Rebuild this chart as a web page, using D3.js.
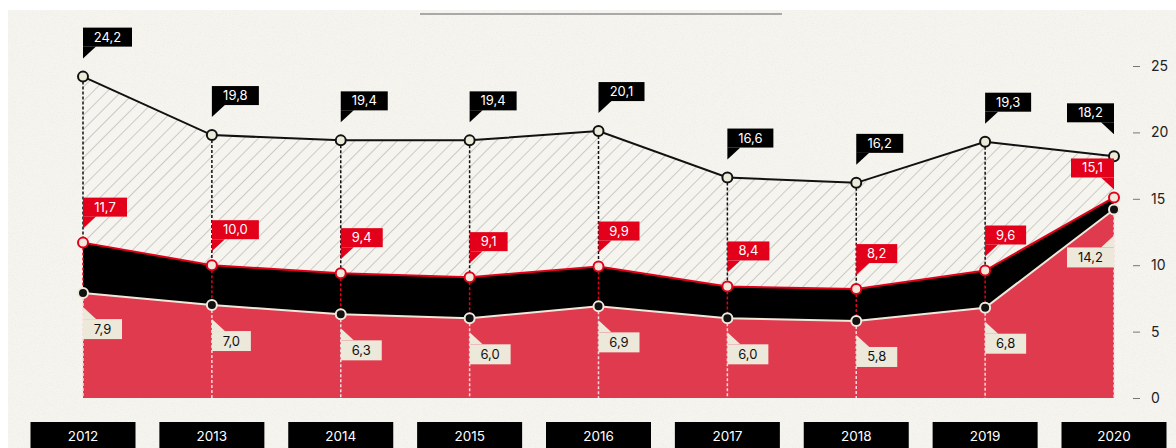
<!DOCTYPE html>
<html>
<head>
<meta charset="utf-8">
<script src="https://cdn.jsdelivr.net/npm/d3@7"></script>
<style>
  html, body { margin: 0; padding: 0; background: #ffffff; }
  svg { display: block; }
  text { font-family: "Inter", "Lato", sans-serif; }
</style>
</head>
<body>
<svg id="chart" width="1176" height="448"></svg>
<script>
// Yearly values, three stacked levels
const years = ["2012", "2013", "2014", "2015", "2016", "2017", "2018", "2019", "2020"];
const totalValues = [24.2, 19.8, 19.4, 19.4, 20.1, 16.6, 16.2, 19.3, 18.2];
const middleValues = [11.7, 10.0, 9.4, 9.1, 9.9, 8.4, 8.2, 9.6, 15.1];
const baseValues = [7.9, 7.0, 6.3, 6.0, 6.9, 6.0, 5.8, 6.8, 14.2];
const yTicks = [0, 5, 10, 15, 20, 25];

const fmt = v => d3.format(".1f")(v).replace(".", ",");

const svg = d3.select("#chart");
const W = 1176, H = 448;

const x = d3.scalePoint().domain(years).range([83, 1114]);
const y = d3.scaleLinear().domain([0, 25]).range([398, 66]);

const rows = years.map((yr, i) => ({
  year: yr, i, total: totalValues[i], mid: middleValues[i], base: baseValues[i]
}));
const last = rows.length - 1;

const defs = svg.append("defs");

// diagonal hatch for the upper band
const hatch = defs.append("pattern")
  .attr("id", "hatch")
  .attr("patternUnits", "userSpaceOnUse")
  .attr("width", 10).attr("height", 10)
  .attr("patternTransform", "rotate(45)");
hatch.append("rect").attr("width", 10).attr("height", 10).attr("fill", "#f5f4ef");
hatch.append("line").attr("x1", 0).attr("y1", 0).attr("x2", 0).attr("y2", 10)
  .attr("stroke", "#a8a8a4").attr("stroke-width", 1.1);

// paper grain
const grain = defs.append("filter").attr("id", "grain")
  .attr("x", 0).attr("y", 0).attr("width", "100%").attr("height", "100%");
grain.append("feTurbulence").attr("type", "fractalNoise")
  .attr("baseFrequency", 0.9).attr("numOctaves", 2).attr("seed", 3).attr("result", "n");
grain.append("feColorMatrix").attr("in", "n").attr("type", "matrix")
  .attr("values", "0 0 0 0 0.45  0 0 0 0 0.43  0 0 0 0 0.40  0 0 0 -1.4 0.75");

// paper background
svg.append("rect").attr("x", 8).attr("y", 10).attr("width", W - 8).attr("height", H - 10)
  .attr("fill", "#f5f4ef");
svg.append("rect").attr("x", 8).attr("y", 10).attr("width", W - 8).attr("height", H - 10)
  .attr("filter", "url(#grain)").attr("opacity", 0.18);

// rule across the top
svg.append("line").attr("x1", 420).attr("x2", 782).attr("y1", 14).attr("y2", 14)
  .attr("stroke", "#a9a9a9").attr("stroke-width", 2);

const px = d => x(d.year);

// stacked bands
const area = (lo, hi) => d3.area().x(px).y0(d => y(lo(d))).y1(d => y(hi(d)));
svg.append("path").datum(rows).attr("fill", "url(#hatch)")
  .attr("d", area(d => d.mid, d => d.total));
svg.append("path").datum(rows).attr("fill", "#000000")
  .attr("d", area(d => d.base, d => d.mid));
svg.append("path").datum(rows).attr("fill", "#e03a4e")
  .attr("d", area(d => 0, d => d.base));

// dashed verticals, coloured per band
const dashes = svg.append("g");
rows.forEach(d => {
  const xx = px(d);
  const seg = (v0, v1, c) => dashes.append("line")
    .attr("x1", xx).attr("x2", xx).attr("y1", y(v0)).attr("y2", y(v1))
    .attr("stroke", c).attr("stroke-width", 1.5).attr("stroke-dasharray", "3,2");
  if (d.i !== last) {
    seg(d.total, d.mid, "#111111");
    seg(d.mid, d.base, "#e2001a");
  }
  seg(d.base, 0, "#f6d9dc");
});

// level lines
const line = acc => d3.line().x(px).y(d => y(acc(d)));
svg.append("path").datum(rows).attr("fill", "none").attr("stroke", "#111111")
  .attr("stroke-width", 2).attr("d", line(d => d.total));
svg.append("path").datum(rows).attr("fill", "none").attr("stroke", "#e2001a")
  .attr("stroke-width", 2).attr("d", line(d => d.mid));
svg.append("path").datum(rows).attr("fill", "none").attr("stroke", "#efe9dc")
  .attr("stroke-width", 2).attr("d", line(d => d.base));

// point markers
const dots = (acc, fill, stroke) => svg.append("g").selectAll("circle").data(rows).join("circle")
  .attr("cx", px).attr("cy", d => y(acc(d))).attr("r", 5)
  .attr("fill", fill).attr("stroke", stroke).attr("stroke-width", 2);
dots(d => d.total, "#ecebd9", "#111111");
dots(d => d.mid, "#efe8dc", "#e2001a");
dots(d => d.base, "#111111", "#efe9dc");

// value callouts
const labels = svg.append("g");
function callout(d, value, opts) {
  const xx = px(d);
  const yy = y(value);
  const g = labels.append("g");
  const t = g.append("text").text(fmt(value))
    .attr("font-size", 13).attr("font-weight", 400)
    .attr("fill", opts.text).attr("text-anchor", "middle");
  const tw = t.node().getComputedTextLength();
  const bw = Math.round(tw + 22), bh = opts.h;
  const left = d.i === last;
  const bx = left ? xx - bw : xx;
  const by = opts.above ? yy - opts.gap - bh : yy + opts.gap;
  g.insert("rect", "text").attr("x", bx).attr("y", by).attr("width", bw).attr("height", bh)
    .attr("fill", opts.fill);
  // pointer tail
  const tail = 13, reach = 12;
  let pts;
  if (opts.above) {
    const b = by + bh;
    pts = left ? [[xx, b], [xx - tail, b], [xx, b + reach]] : [[xx, b], [xx + tail, b], [xx, b + reach]];
  } else {
    pts = left ? [[xx, by], [xx - tail, by], [xx, by - reach]] : [[xx, by], [xx + tail, by], [xx, by - reach]];
  }
  g.insert("path", "text").attr("d", d3.line()(pts) + "Z").attr("fill", opts.fill);
  t.attr("x", bx + bw / 2).attr("y", by + bh / 2 + 4.5);
}
rows.forEach(d => {
  const isLast = d.i === last;
  callout(d, d.total, { above: true, gap: isLast ? 34 : 30, h: 19, fill: "#000000", text: "#ffffff" });
  callout(d, d.mid, { above: true, gap: isLast ? 20 : 26, h: 19, fill: "#e2001a", text: "#ffffff" });
  callout(d, d.base, { above: false, gap: isLast ? 38 : 26, h: 20, fill: "#ece8da", text: "#111111" });
});

// right-hand value axis
const axis = svg.append("g").attr("transform", "translate(1140,0)")
  .call(d3.axisRight(y).tickValues(yTicks).tickSize(0).tickPadding(11).tickFormat(d3.format("d")));
axis.select(".domain").remove();
axis.selectAll(".tick text").attr("font-size", 14).attr("fill", "#222222")
  .attr("font-family", "Inter, Lato, sans-serif").attr("font-weight", 400);
axis.selectAll(".tick").append("line").attr("x1", -7).attr("x2", 0)
  .attr("stroke", "#777777").attr("stroke-width", 1);

// year badges
const yr = svg.append("g").selectAll("g").data(rows).join("g")
  .attr("transform", d => `translate(${px(d)},0)`);
yr.append("rect").attr("x", -52.5).attr("y", 422).attr("width", 105).attr("height", 30)
  .attr("fill", "#000000");
yr.append("text").attr("x", 0).attr("y", 441).attr("text-anchor", "middle")
  .attr("font-size", 13.5).attr("font-weight", 400).attr("fill", "#ffffff")
  .text(d => d.year);
</script>
</body>
</html>
